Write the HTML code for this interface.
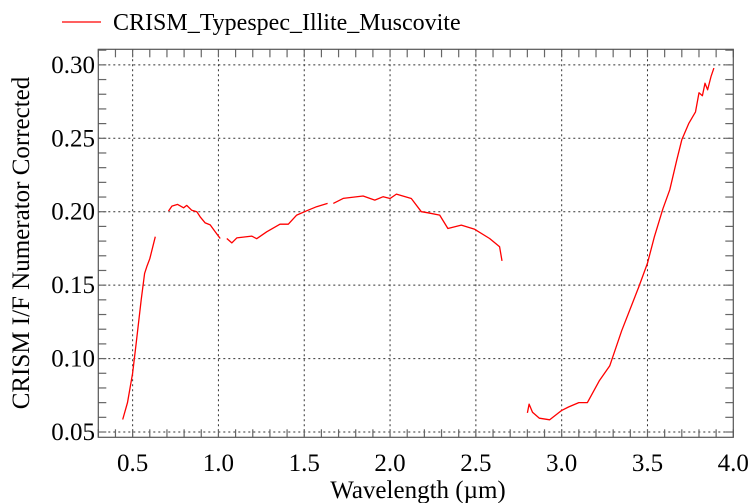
<!DOCTYPE html>
<html><head><meta charset="utf-8"><style>
html,body{margin:0;padding:0;background:#fff;}
svg{display:block;font-family:"Liberation Serif",serif;}
</style></head><body>
<svg id="chart" width="755" height="503" viewBox="0 0 755 503" xmlns="http://www.w3.org/2000/svg">
<g>
<line x1="62" y1="22" x2="101" y2="22" stroke="#ff0000" stroke-width="1.3"/>
<text x="113" y="30" font-size="24" fill="#000">CRISM_Typespec_Illite_Muscovite</text>
</g>
<g id="grid"></g>
<g id="ticks"></g>
<g id="series"></g>
<rect x="98.3" y="49.3" width="635" height="388" fill="none" stroke="#555" stroke-width="1.2"/>
<text x="418" y="498" font-size="25" text-anchor="middle">Wavelength (µm)</text>
<text transform="translate(29,243) rotate(-90)" font-size="25" text-anchor="middle">CRISM I/F Numerator Corrected</text>
</svg>
<script>
const xTicks=[0.5,1.0,1.5,2.0,2.5,3.0,3.5,4.0];
const yTicks=[0.05,0.10,0.15,0.20,0.25,0.30];
const seg1X=[0.442,0.47,0.50,0.52,0.55,0.57,0.584,0.60,0.632];
const seg1Y=[0.0585,0.070,0.090,0.110,0.140,0.158,0.163,0.168,0.183];
const seg2X=[0.709,0.729,0.762,0.797,0.815,0.845,0.874,0.894,0.923,0.952,0.981,1.01];
const seg2Y=[0.2004,0.2038,0.205,0.2027,0.2043,0.201,0.200,0.1965,0.1924,0.191,0.1863,0.1818];
const seg3X=[1.049,1.078,1.107,1.194,1.223,1.281,1.359,1.407,1.456,1.514,1.572,1.636];
const seg3Y=[0.1818,0.1788,0.1822,0.1834,0.1816,0.1863,0.1915,0.1915,0.1977,0.2006,0.2034,0.2057];
const seg4X=[1.669,1.727,1.843,1.911,1.96,2.0,2.037,2.124,2.182,2.221,2.289,2.337,2.415,2.493,2.58,2.619,2.638,2.652];
const seg4Y=[0.2057,0.2091,0.2107,0.2079,0.2102,0.209,0.212,0.209,0.200,0.1993,0.1977,0.1886,0.1909,0.188,0.1818,0.178,0.1761,0.1665];
const seg5X=[2.80,2.81,2.83,2.87,2.93,3.0,3.04,3.10,3.15,3.22,3.28,3.35,3.45,3.50,3.54,3.59,3.63,3.67,3.70,3.74,3.78,3.80,3.82,3.835,3.85,3.87,3.887];
const seg5Y=[0.063,0.069,0.0635,0.0594,0.0583,0.0647,0.067,0.070,0.070,0.085,0.095,0.119,0.149,0.165,0.183,0.202,0.215,0.235,0.249,0.260,0.268,0.281,0.279,0.2875,0.283,0.292,0.2978];
const L=98.3,R=733.3,T=49.3,B=437.3;
const xMin=0.3,xMax=4.0,yMin=0.0464,yMax=0.3106;
function sx(v){return L+(v-xMin)/(xMax-xMin)*(R-L);}
function sy(v){return B-(v-yMin)/(yMax-yMin)*(B-T);}
const NS="http://www.w3.org/2000/svg";
const grid=document.getElementById('grid'),ticks=document.getElementById('ticks'),series=document.getElementById('series');
function mk(tag,attrs,parent){const e=document.createElementNS(NS,tag);for(const k in attrs)e.setAttribute(k,attrs[k]);parent.appendChild(e);return e;}
xTicks.forEach(v=>{
  const x=sx(v);
  if(v<xMax){const g=mk('line',{x1:x,x2:x,y1:T,y2:B,stroke:'#333','stroke-width':1,'stroke-dasharray':'2,3'},grid);
  
  }
  const t=mk('text',{x:x,y:471,'font-size':25,'text-anchor':'middle'},ticks);
  t.textContent=v.toFixed(1);
  
  
});
yTicks.forEach(v=>{
  const y=sy(v);
  const g=mk('line',{x1:L,x2:R,y1:y,y2:y,stroke:'#333','stroke-width':1,'stroke-dasharray':'2,3'},grid);
  
  
  const t=mk('text',{x:95,y:y+8,'font-size':25,'text-anchor':'end'},ticks);
  t.textContent=v.toFixed(2);
  
  
});
for(let i=3;i<=40;i++){const x=sx(i/10);
  [[B,B-8],[T,T+8]].forEach(p=>{const m=mk('line',{x1:x,x2:x,y1:p[0],y2:p[1],stroke:'#666','stroke-width':1.2},ticks);
  
  });}
for(let i=5;i<=31;i++){const y=sy(i/100);
  [[L,L+8],[R,R-8]].forEach(p=>{const m=mk('line',{x1:p[0],x2:p[1],y1:y,y2:y,stroke:'#666','stroke-width':1.2},ticks);
  
  });}
[[seg1X,seg1Y],[seg2X,seg2Y],[seg3X,seg3Y],[seg4X,seg4Y],[seg5X,seg5Y]].forEach((s,i)=>{
  const d=s[0].map((v,j)=>(j?'L':'M')+sx(v).toFixed(1)+','+sy(s[1][j]).toFixed(1)).join(' ');
  const p=mk('path',{d:d,fill:'none',stroke:'#ff0000','stroke-width':1.3,'stroke-linejoin':'round'},series);
  
  
});
</script>
</body></html>
